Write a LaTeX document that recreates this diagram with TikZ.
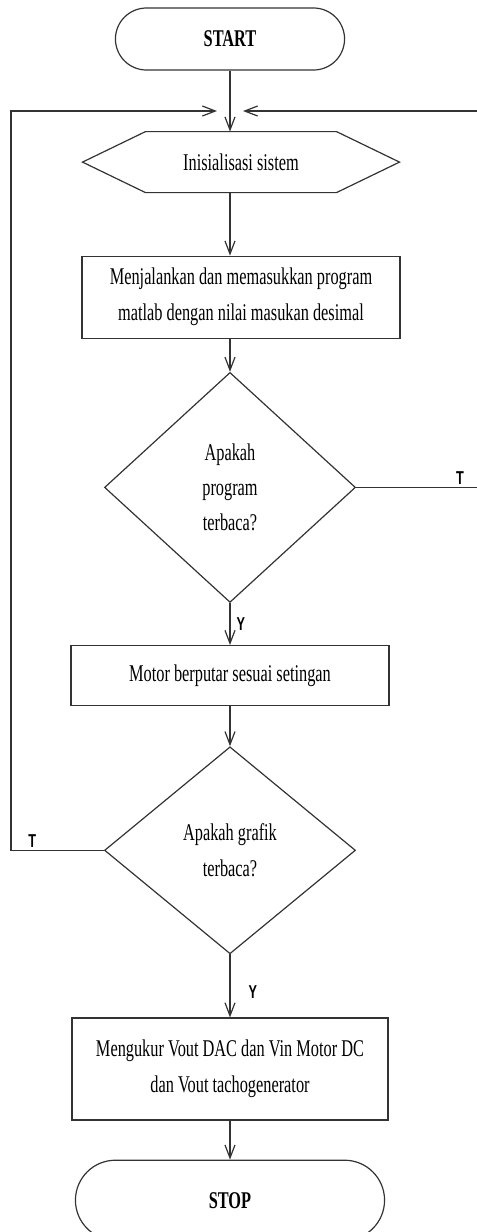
\documentclass[tikz,border=0pt]{standalone}
\usepackage{fontspec}
\setmainfont{Liberation Serif}[FakeStretch=0.68]
\newfontfamily\flagfont{Liberation Sans}[FakeStretch=0.68]
\usetikzlibrary{positioning,shapes.geometric,shapes.misc,arrows.meta}

\begin{document}
\begin{tikzpicture}[
        term_node/.style={rounded rectangle, draw=black!80, line width=0.9pt, minimum width=238.5pt, font=\fontsize{18pt}{27pt}\selectfont\bfseries},
        prep_node/.style={rectangle, outer sep=0pt, minimum width=237.75pt, minimum height=45.75pt, font=\fontsize{18pt}{27pt}\selectfont},
        proc_node/.style={rectangle, draw=black!80, line width=0.9pt, minimum width=238.5pt, align=center, font=\fontsize{18pt}{27pt}\selectfont},
        dec_node/.style={diamond, draw=black!80, line width=0.9pt, minimum width=188.25pt, inner sep=0pt, align=center, font=\fontsize{18pt}{26.5pt}\selectfont},
        arrow_line/.style={draw=black!80, line width=0.9pt, -{Straight Barb[length=9.75pt,width=7.5pt]}},
        plain_line/.style={draw=black!80, line width=0.9pt, -},
        flag/.style={font=\flagfont\bfseries\fontsize{14pt}{14pt}\selectfont, inner sep=1.5pt},
        ]
            \useasboundingbox (-172.5pt,29.25pt) rectangle (185.25pt,-894.75pt);

            % blocks
            \node[term_node]    (flow_start)   [minimum width=178.5pt, minimum height=46.5pt]     {START};
            \node[prep_node]    (flow_init)    [below = 45.75pt of flow_start, xshift=8.25pt]     {Inisialisasi sistem};
            \node[proc_node]    (flow_prog)    [below = 47.25pt of flow_init, minimum height=61.5pt]
                                                {Menjalankan dan memasukkan program\\matlab dengan nilai masukan desimal};
            \node[dec_node]     (flow_read)    [below = 24.75pt of flow_prog, xshift=-8.25pt, minimum height=172.5pt]
                                                {Apakah\\program\\terbaca?};
            \node[proc_node]    (flow_motor)   [below = 31.5pt of flow_read, minimum height=45pt] {Motor berputar sesuai setingan};
            \node[dec_node]     (flow_graph)   [below = 30pt of flow_motor, minimum height=155.25pt]
                                                {Apakah grafik\\terbaca?};
            \node[proc_node]    (flow_measure) [below = 47.25pt of flow_graph, minimum width=237pt, minimum height=76.5pt]
                                                {Mengukur Vout DAC dan Vin Motor DC\\dan Vout tachogenerator};
            \node[term_node]    (flow_stop)    [below = 29.25pt of flow_measure, minimum height=60pt] {STOP};

            % hexagon outline
            \draw[plain_line] ([xshift=47.25pt]flow_init.north west) -- ([xshift=-47.25pt]flow_init.north east) -- (flow_init.east)
                -- ([xshift=-47.25pt]flow_init.south east) -- ([xshift=47.25pt]flow_init.south west) -- (flow_init.west) -- cycle;

            % loop ends
            \coordinate (loop_left)  at (-164.25pt,-54pt);
            \coordinate (loop_right) at (185.25pt,-54pt);
            \coordinate (loop_merge) at (flow_start.south |- loop_left);

            % lines
            \draw[arrow_line] (flow_start.south) -- (flow_start.south |- flow_init.north);
            \draw[arrow_line] (flow_start.south |- flow_init.south) -- (flow_start.south |- flow_prog.north);
            \draw[arrow_line] (flow_read.north |- flow_prog.south) -- (flow_read.north);
            \draw[arrow_line] (flow_read.south) -- (flow_motor.north) node[flag, right=3pt, midway] {Y};
            \draw[arrow_line] (flow_motor.south) -- (flow_graph.north);
            \draw[arrow_line] (flow_graph.south) -- (flow_measure.north) node[flag, right=12pt, pos=0.6] {Y};
            \draw[arrow_line] (flow_measure.south) -- (flow_stop.north);

            % back loops
            \draw[plain_line] (flow_read.east) -- (flow_read.east -| loop_right) node[flag, above, pos=0.86] {T};
            \draw[arrow_line] (loop_right) -- ([xshift=9.75pt]loop_merge);
            \draw[arrow_line] (flow_graph.west) -- (flow_graph.west -| loop_left) node[flag, above, pos=0.77] {T}
                -- (loop_left) -- ([xshift=-9.75pt]loop_merge);

        \end{tikzpicture}
\end{document}
